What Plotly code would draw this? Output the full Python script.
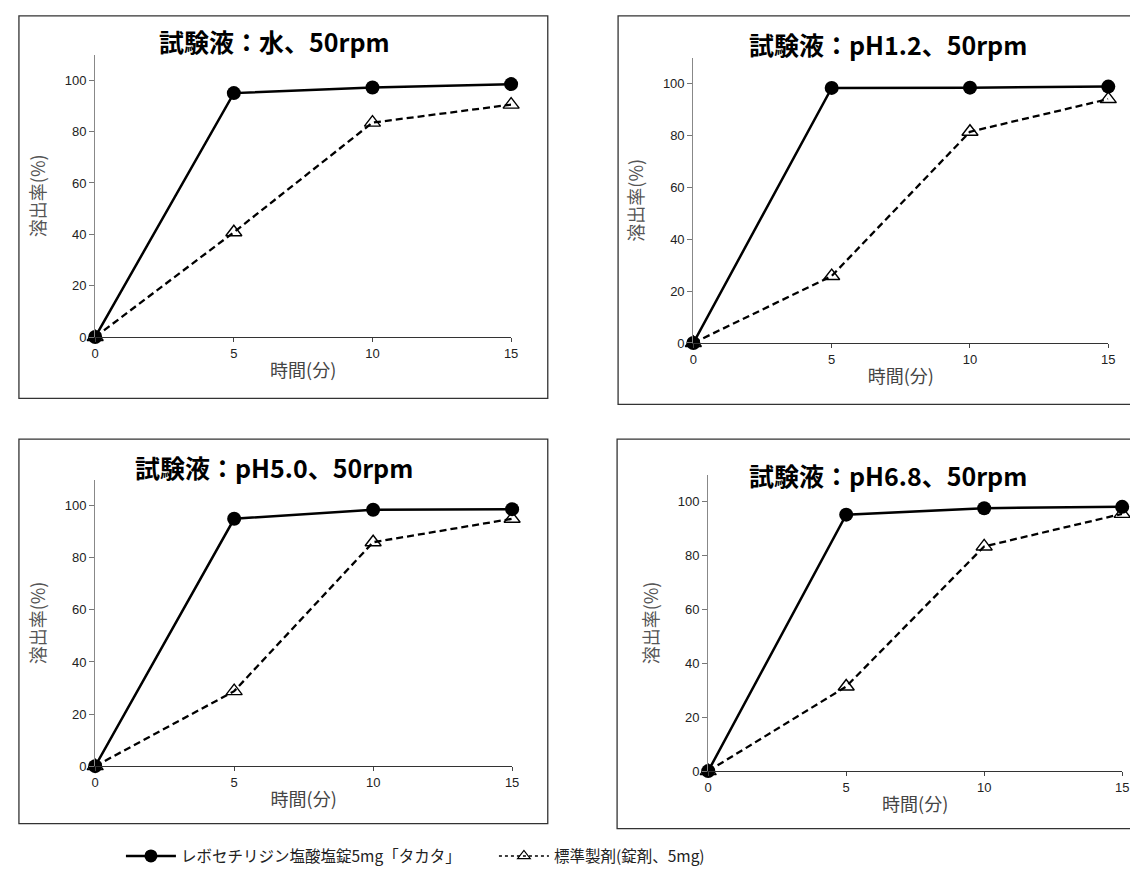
import plotly.graph_objects as go

W, H = 1138, 893

time_min = [0, 5, 10, 15]
panel_titles = ["試験液：水、50rpm", "試験液：pH1.2、50rpm", "試験液：pH5.0、50rpm", "試験液：pH6.8、50rpm"]
test_values = [
    [0, 95.0, 97.2, 98.5],
    [0, 98.3, 98.4, 98.8],
    [0, 95.0, 98.5, 98.7],
    [0, 95.2, 97.6, 98.1],
]
ref_values = [
    [0, 40.8, 83.5, 90.5],
    [0, 25.8, 81.4, 94.0],
    [0, 28.8, 86.0, 95.0],
    [0, 31.4, 83.4, 95.5],
]
x_ticks = [0, 5, 10, 15]
y_ticks = [0, 20, 40, 60, 80, 100]
series_names = ["レボセチリジン塩酸塩錠5mg「タカタ」", "標準製剤(錠剤、5mg)"]
x_title = "時間(分)"
y_title = "溶出率(%)"

# pixel layout: (x0 px, x15 px, y0 px, y110 px), box (l, t, r, b), title (cx, cy)
panels = [
    dict(ax=(84, 504, 332, 47), box=(7, 8, 541, 394), title=(265, 33)),
    dict(ax=(688, 1107, 338, 50), box=(612, 8, 1150, 400), title=(885, 36)),
    dict(ax=(84, 505, 765, 476), box=(7, 435, 541, 823), title=(265, 463)),
    dict(ax=(703, 1121, 770, 471), box=(611, 435, 1150, 828), title=(885, 471)),
]

def px(v):
    return v / W

def py(v):
    return 1 - v / H

fig = go.Figure()
shapes = []
annotations = []
for i, p in enumerate(panels):
    n = "" if i == 0 else str(i + 1)
    x0, x1, y0, y1 = p["ax"]
    fig.add_trace(go.Scatter(
        x=time_min, y=test_values[i], xaxis="x" + n, yaxis="y" + n,
        mode="lines+markers", name=series_names[0], showlegend=False,
        line=dict(color="black", width=2.5),
        marker=dict(symbol="circle", size=14, color="black"),
        cliponaxis=False,
    ))
    fig.add_trace(go.Scatter(
        x=time_min, y=ref_values[i], xaxis="x" + n, yaxis="y" + n,
        mode="lines+markers", name=series_names[1], showlegend=False,
        line=dict(color="black", width=2.3, dash="7px,4px"),
        marker=dict(symbol="triangle-up-open", size=14, color="black", line=dict(width=1.4)),
        cliponaxis=False,
    ))
    fig.update_layout(**{
        "xaxis" + n: dict(
            domain=[px(x0), px(x1)], range=[0, 15], anchor="y" + n,
            tickvals=x_ticks, ticks="outside", ticklen=4, tickcolor="#444",
            showline=True, linecolor="#333", linewidth=1.3, showgrid=False, zeroline=False,
            tickfont=dict(family="Liberation Sans, Arial", size=13, color="#222"),
            title=dict(text=x_title, font=dict(family="Noto Sans CJK JP", size=18, color="#444"), standoff=4),
        ),
        "yaxis" + n: dict(
            domain=[py(y0), py(y1)], range=[0, 110], anchor="x" + n,
            tickvals=y_ticks, ticks="outside", ticklen=5, tickcolor="#777",
            showline=True, linecolor="#888", linewidth=1.3, showgrid=False, zeroline=False,
            tickfont=dict(family="Liberation Sans, Arial", size=13, color="#222"),
            title=dict(text=y_title, font=dict(family="Noto Sans CJK JP", size=18, color="#555"), standoff=14),
        ),
    })
    l, t, r, b = p["box"]
    shapes.append(dict(type="rect", xref="paper", yref="paper",
                       x0=px(l), x1=px(r), y0=py(b), y1=py(t),
                       line=dict(color="#333", width=1.3), fillcolor="rgba(0,0,0,0)"))
    cx, cy = p["title"]
    annotations.append(dict(text="<b>" + panel_titles[i] + "</b>", xref="paper", yref="paper",
                            x=px(cx), y=py(cy), xanchor="center", yanchor="middle", showarrow=False,
                            font=dict(family="Noto Sans CJK JP", size=25, color="black")))

# legend-only entries (no data points drawn)
fig.add_trace(go.Scatter(
    x=[None], y=[None], mode="lines+markers", name=series_names[0],
    line=dict(color="black", width=2.5), marker=dict(symbol="circle", size=13, color="black"),
))
fig.add_trace(go.Scatter(
    x=[None], y=[None], mode="lines+markers", name=series_names[1],
    line=dict(color="black", width=1.5, dash="dot"),
    marker=dict(symbol="triangle-up-open", size=11, color="black", line=dict(width=1.2)),
))

fig.update_layout(
    width=W, height=H,
    margin=dict(l=0, r=0, t=0, b=0),
    paper_bgcolor="white", plot_bgcolor="white",
    shapes=shapes, annotations=annotations,
    showlegend=True,
    legend=dict(orientation="h", x=px(110), xanchor="left", y=py(856), yanchor="middle",
                font=dict(family="Noto Sans CJK JP", size=15.5, color="#222"),
                itemwidth=50, entrywidth=308, bgcolor="rgba(0,0,0,0)"),
)

fig.write_html("out.html")
